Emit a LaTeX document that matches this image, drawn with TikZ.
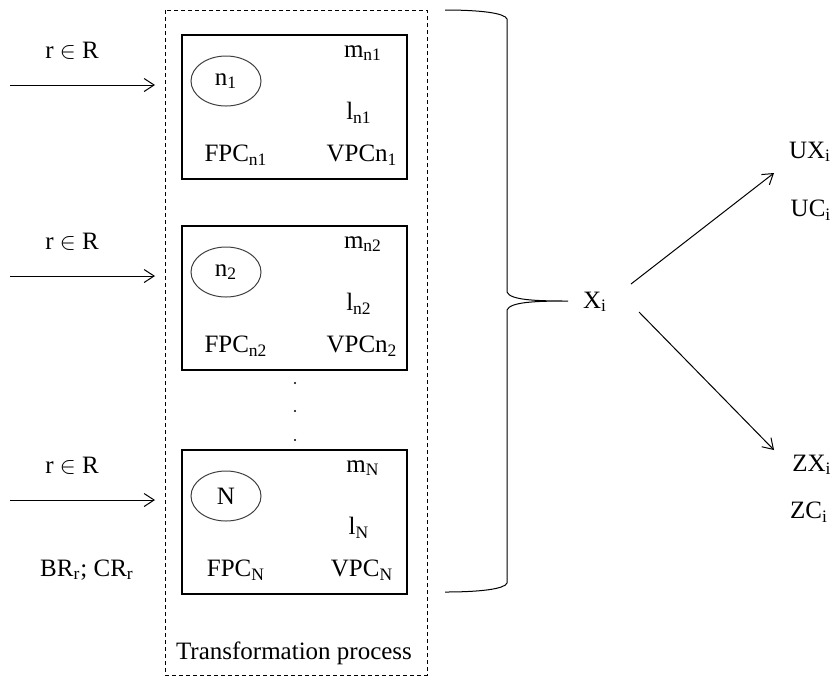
\documentclass[tikz,border=0pt]{standalone}
\usepackage{fontspec}
\setmainfont{Liberation Serif}
\usetikzlibrary{arrows.meta,shapes.geometric}

\begin{document}
\begin{tikzpicture}[x=0.5pt,y=-0.5pt,line width=0.5pt,
        >={Straight Barb[length=5pt,width=6.5pt]},
        font=\fontsize{12.5}{15}\selectfont,
        stagebox/.style={draw,line width=0.7pt,minimum width=112.5pt,minimum height=72pt,inner sep=0pt},
        unit/.style={ellipse,draw=black!75,minimum width=35pt,minimum height=25pt,inner sep=0pt}]
        \useasboundingbox (0,0) rectangle (836,677);

        % dashed frame round the stages
        \draw[dash pattern=on 2pt off 1.5pt] (165,10) rectangle (427,675);
        \node (proc) at (294,653) {Transformation process};

        % one stage per row: box, unit, labels and incoming resource arrow
        \foreach \i/\t/\e/\s/\v in {
            1/35/n\textsubscript{1}/n1/n\textsubscript{1},
            2/226/n\textsubscript{2}/n2/n\textsubscript{2},
            3/450/N/N/\textsubscript{N}} {
            \node[stagebox] (box\i) at (294.5,\t+72) {};
            \node[unit] (unit\i) at (226,\t+46) {\e};
            \node (m\i) at (363,\t+18) {m\textsubscript{\s}};
            \node (l\i) at (359,\t+78) {l\textsubscript{\s}};
            \node (fpc\i) at (236,\t+120) {FPC\textsubscript{\s}};
            \node (vpc\i) at (362,\t+120) {VPC\v};
            \node (res\i) at (72,\t+16) {r $\in$ R};
            \coordinate (src\i) at (10,\t+50);
            \coordinate (dst\i) at (155,\t+50);
            \draw[->] (src\i) -- (dst\i);
        }
        \node (rates) at (87,570) {BR\textsubscript{r}; CR\textsubscript{r}};

        % dots between the second and last stage
        \foreach \d in {383,411,440}
            \fill (295,\d) circle (1.1);

        % brace collecting all stages
        \draw (445,10) .. controls (480,10) and (505,13) .. (507,19)
            -- (507,292) .. controls (510,300) and (535,301) .. (568,301)
            .. controls (535,301) and (510,302) .. (507,310)
            -- (507,583) .. controls (505,589) and (480,592) .. (445,592);

        % output and its two outcomes
        \node (xi) at (595,302) {X\textsubscript{i}};
        \node (ux) at (810,152) {UX\textsubscript{i}};
        \node (uc) at (811,210) {UC\textsubscript{i}};
        \node (zx) at (812,465) {ZX\textsubscript{i}};
        \node (zc) at (809,512) {ZC\textsubscript{i}};
        \coordinate (xiup) at (631,284);
        \coordinate (xidown) at (639,312);
        \coordinate (uptip) at (774,173);
        \coordinate (downtip) at (774,450);
        \draw[->] (xiup) -- (uptip);
        \draw[->] (xidown) -- (downtip);
\end{tikzpicture}
\end{document}
